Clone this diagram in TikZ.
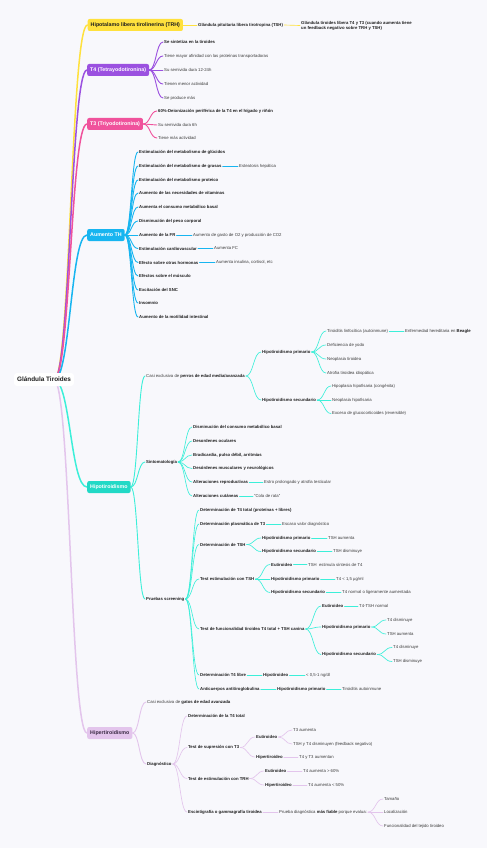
\documentclass[tikz,border=0pt]{standalone}
\usepackage{fontspec}
\setmainfont{Liberation Sans}
\usetikzlibrary{calc}
\definecolor{bgc}{HTML}{F8F8FC}
\definecolor{cY}{HTML}{FFE13D}
\definecolor{cP}{HTML}{9B51E0}
\definecolor{cK}{HTML}{F0529C}
\definecolor{cB}{HTML}{17B5F0}
\definecolor{cC}{HTML}{3CEFD9}
\definecolor{cCbox}{HTML}{22D9C6}
\definecolor{cL}{HTML}{E3C5EC}
\definecolor{cLtxt}{HTML}{3B2B45}
\definecolor{txt}{HTML}{1E1E1E}
\definecolor{txtl}{HTML}{3A3A3A}
\pgfdeclarelayer{back}
\pgfdeclarelayer{edges}
\pgfsetlayers{back,edges,main}
\newcommand\cn[3]{\edef\cnA{#2}\edef\cnB{#3}\draw[#1] let \p1=(\cnA), \p2=(\cnB) in (\p1) .. controls ({0.5*\x1+0.5*\x2},\y1) and ({0.5*\x1+0.5*\x2},\y2) .. (\p2);}
\begin{document}
\begin{tikzpicture}[x=1pt,y=-1pt,
  lf/.style={anchor=west,inner xsep=1pt,inner ysep=0.5pt,font=\fontsize{4.25}{5}\selectfont,text=txtl},
  bl/.style={anchor=west,inner xsep=1pt,inner ysep=0.5pt,font=\fontsize{4.25}{5}\selectfont\bfseries,text=txt},
  bx/.style={anchor=west,rounded corners=2pt,inner xsep=3pt,inner ysep=1pt,minimum height=12pt,font=\fontsize{5.3}{6}\selectfont\bfseries,text=white},
  rootbox/.style={fill=white,rounded corners=3pt,inner xsep=3pt,minimum height=13pt,font=\fontsize{6.4}{7}\selectfont\bfseries,text=txt},
  e1/.style={line width=1.5pt,line cap=round},
  e2/.style={line width=0.9pt,line cap=round},
  e3/.style={line width=0.65pt,line cap=round}]
\begin{pgfonlayer}{back}
\fill[bgc] (0,0) rectangle (487,848);
\end{pgfonlayer}
\useasboundingbox (0,0) rectangle (487,848);
\coordinate (r0) at (54,380);
\node[rootbox] (root) at (44,379.5) {Glándula Tiroides};
% ---------- boxes
\node[bx,fill=cY,text=txt] (trh) at (87.5,25) {Hipotalamo libera tirolinerina (TRH)};
\node[bx,fill=cP] (t4) at (87,70) {T4 (Tetrayodotironina)};
\node[bx,fill=cK] (t3) at (87,124) {T3 (Triyodotironina)};
\node[bx,fill=cB] (ath) at (87,235) {Aumento TH};
\node[bx,fill=cCbox] (hipo) at (87,487) {Hipotiroidismo};
\node[bx,fill=cL,text=cLtxt] (hiper) at (87,733) {Hipertiroidismo};
% ---------- TRH
\node[bl] (tsh) at (197,25) {Glándula pituitaria libera tirotropina (TSH)};
\node[bl,align=left] (tir) at (300,25.5) {Glándula tiroides libera T4 y T3 (cuando aumenta tiene\\un feedback negativo sobre TRH y TSH)};
% ---------- T4
\node[bl] (t4a) at (163,42) {Se sintetiza en la tiroides};
\node[lf] (t4b) at (163,56) {Tiene mayor afinidad con las proteínas transportadoras};
\node[lf] (t4c) at (163,70) {Su semivida dura 12-24h};
\node[lf] (t4d) at (163,84) {Tienen menor actividad};
\node[lf] (t4e) at (163,98) {Se produce más};
% ---------- T3
\node[bl] (t3a) at (157,111) {60\%-Deionización periférica de la T4 en el hígado y riñón};
\node[lf] (t3b) at (157,125) {Su semivida dura 6h};
\node[lf] (t3c) at (157,138) {Tiene más actividad};
% ---------- Aumento TH
\node[bl] (a1) at (138,152) {Estimulación del metabolismo de glúcidos};
\node[bl] (a2) at (138,166) {Estimulación del metabolismo de grasas};
\node[bl] (a3) at (138,180) {Estimulación del metabolismo proteico};
\node[bl] (a4) at (138,193) {Aumento de las necesidades de vitaminas};
\node[bl] (a5) at (138,207) {Aumenta el consumo metabólico basal};
\node[bl] (a6) at (138,221) {Disminución del peso corporal};
\node[bl] (a7) at (138,235) {Aumento de la FR};
\node[bl] (a8) at (138,248.5) {Estimulación cardiovascular};
\node[bl] (a9) at (138,262.5) {Efecto sobre otras hormonas};
\node[bl] (a10) at (138,276) {Efectos sobre el músculo};
\node[bl] (a11) at (138,290) {Excitación del SNC};
\node[bl] (a12) at (138,303) {Insomnio};
\node[bl] (a13) at (138,317) {Aumento de la motilidad intestinal};
\node[lf] (a2a) at (238,166) {Esteatosis hepática};
\node[lf] (a7a) at (192,235) {Aumento de gasto de O2 y producción de CO2};
\node[lf] (a8a) at (213,248.5) {Aumenta FC};
\node[lf] (a9a) at (215,262.5) {Aumenta insulina, cortisol, etc};
% ---------- Hipotiroidismo
\node[lf] (hA) at (145,376) {Casi exclusiva de \textbf{\color{txt}perros de edad media/avanzada}};
\node[bl] (hA1) at (261,352) {Hipotiroidismo primario};
\node[lf] (hA1a) at (326,331) {Tiroiditis linfocítica (autoinmune)};
\node[lf] (hA1b) at (326,345) {Deficiencia de yodo};
\node[lf] (hA1c) at (326,359) {Neoplasia tiroidea};
\node[lf] (hA1d) at (326,373) {Atrofia tiroidea idiopática};
\node[lf] (beag) at (404,331) {Enfermedad hereditaria en \textbf{\color{txt}Beagle}};
\node[bl] (hA2) at (261,400) {Hipotiroidismo secundario};
\node[lf] (hA2a) at (331,386) {Hipoplasia hipofisaria (congénita)};
\node[lf] (hA2b) at (331,400) {Neoplasia hipofisaria};
\node[lf] (hA2c) at (331,413.5) {Exceso de glucocorticoides (reversible)};
\node[bl] (hS) at (145,462) {Sintomatología};
\node[bl] (s1) at (192,427) {Disminución del consumo metabólico basal};
\node[bl] (s2) at (192,441) {Desordenes oculares};
\node[bl] (s3) at (192,455) {Bradicardia, pulso débil, arritmias};
\node[bl] (s4) at (192,468.5) {Desórdenes musculares y neurológicos};
\node[bl] (s5) at (192,482) {Alteraciones reproductivas};
\node[bl] (s6) at (192,496) {Alteraciones cutáneas};
\node[lf] (s5a) at (263,482) {Estro prolongado y atrofia testicular};
\node[lf] (s6a) at (253,496) {“Cola de rata”};
\node[bl] (hP) at (145,599) {Pruebas screening};
\node[bl] (p1) at (199,510) {Determinación de T4 total (proteínas + libres)};
\node[bl] (p2) at (199,524) {Determinación plasmática de T3};
\node[lf] (p2a) at (281,524) {Escaso valor diagnóstico};
\node[bl] (p3) at (199,544.5) {Determinación de TSH};
\node[bl] (p3a) at (261,538) {Hipotiroidismo primario};
\node[lf] (p3aa) at (327,538) {TSH aumenta};
\node[bl] (p3b) at (261,551.5) {Hipotiroidismo secundario};
\node[lf] (p3ba) at (332,551.5) {TSH disminuye};
\node[bl] (p4) at (199,579) {Test estimulación con TSH};
\node[bl] (p4a) at (270,564.5) {Eutiroideo};
\node[lf] (p4aa) at (307,564.5) {TSH\ \ estimula síntesis de T4};
\node[bl] (p4b) at (270,579) {Hipotiroidismo primario};
\node[lf] (p4ba) at (335,579) {T4 < 1,5 µg/ml};
\node[bl] (p4c) at (270,592.5) {Hipotiroidismo secundario};
\node[lf] (p4ca) at (341,592.5) {T4 normal o ligeramente aumentada};
\node[bl] (p5) at (199,629) {Test de funcionalidad tiroidea T4 total + TSH canina};
\node[bl] (p5a) at (321,606) {Eutiroideo};
\node[lf] (p5aa) at (358,606) {T4-TSH normal};
\node[bl] (p5b) at (321,627) {Hipotiroidismo primario};
\node[lf] (p5ba) at (386,620) {T4 disminuye};
\node[lf] (p5bb) at (386,634) {TSH aumenta};
\node[bl] (p5c) at (321,654.5) {Hipotiroidismo secundario};
\node[lf] (p5ca) at (392,647.5) {T4 disminuye};
\node[lf] (p5cb) at (392,661.5) {TSH disminuye};
\node[bl] (p6) at (199,675) {Determinación T4 libre};
\node[bl] (p6a) at (262,675) {Hipotiroideo};
\node[lf] (p6aa) at (305,675) {< 0,5-1 ng/dl};
\node[bl] (p7) at (199,689) {Anticuerpos antitiroglobulina};
\node[bl] (p7a) at (276,689) {Hipotiroidismo primario};
\node[lf] (p7aa) at (341,689) {Tiroiditis autoinmune};
% ---------- Hipertiroidismo
\node[lf] (rA) at (146,702) {Casi exclusiva de \textbf{\color{txt}gatos de edad avanzada}};
\node[bl] (rD) at (146,764) {Diagnóstico};
\node[bl] (d1) at (187,716) {Determinación de la T4 total};
\node[bl] (d2) at (187,747.5) {Test de supresión con T3};
\node[bl] (d2a) at (255,737) {Eutiroideo};
\node[lf] (d2aa) at (292,730) {T3 aumenta};
\node[lf] (d2ab) at (292,744) {TSH y T4 disminuyen (feedback negativo)};
\node[bl] (d2b) at (255,757) {Hipertiroideo};
\node[lf] (d2ba) at (298,757) {T4 y T3 aumentan};
\node[bl] (d3) at (187,778.5) {Test de estimulación con TRH};
\node[bl] (d3a) at (264,771) {Eutiroideo};
\node[lf] (d3aa) at (302,771) {T4 aumenta > 60\%};
\node[bl] (d3b) at (264,785) {Hipertiroideo};
\node[lf] (d3ba) at (307,785) {T4 aumenta < 50\%};
\node[bl] (d4) at (187,812) {Escintigrafía o gammagrafía tiroidea};
\node[lf] (d4a) at (278,812) {Prueba diagnóstica \textbf{\color{txt}más fiable} porque evalua:};
\node[lf] (d4a1) at (383,799) {Tamaño};
\node[lf] (d4a2) at (383,812) {Localización};
\node[lf] (d4a3) at (383,826) {Funcionalidad del tejido tiroideo};
% ---------- connectors
\begin{pgfonlayer}{edges}
\cn{e1,cL}{r0}{hiper.west}
\cn{e1,cC}{r0}{hipo.west}
\cn{e1,cY}{r0}{trh.west}
\cn{e1,cP}{r0}{t4.west}
\cn{e1,cK}{r0}{t3.west}
\cn{e1,cB}{r0}{ath.west}
\cn{e2,cY}{trh.east}{tsh.west}
\cn{e3,cY}{tsh.east}{tir.west}
\foreach \k in {t4a,t4b,t4c,t4d,t4e}{\cn{e2,cP}{t4.east}{\k.west}}
\foreach \k in {t3a,t3b,t3c}{\cn{e2,cK}{t3.east}{\k.west}}
\foreach \k in {a1,a2,a3,a4,a5,a6,a7,a8,a9,a10,a11,a12,a13}{\cn{e2,cB}{ath.east}{\k.west}}
\cn{e3,cB}{a2.east}{a2a.west}
\cn{e3,cB}{a7.east}{a7a.west}
\cn{e3,cB}{a8.east}{a8a.west}
\cn{e3,cB}{a9.east}{a9a.west}
\foreach \k in {hA,hS,hP}{\cn{e2,cC}{hipo.east}{\k.west}}
\foreach \k in {hA1,hA2}{\cn{e3,cC}{hA.east}{\k.west}}
\foreach \k in {hA1a,hA1b,hA1c,hA1d}{\cn{e3,cC}{hA1.east}{\k.west}}
\cn{e3,cC}{hA1a.east}{beag.west}
\foreach \k in {hA2a,hA2b,hA2c}{\cn{e3,cC}{hA2.east}{\k.west}}
\foreach \k in {s1,s2,s3,s4,s5,s6}{\cn{e3,cC}{hS.east}{\k.west}}
\cn{e3,cC}{s5.east}{s5a.west}
\cn{e3,cC}{s6.east}{s6a.west}
\foreach \k in {p1,p2,p3,p4,p5,p6,p7}{\cn{e3,cC}{hP.east}{\k.west}}
\cn{e3,cC}{p2.east}{p2a.west}
\foreach \k in {p3a,p3b}{\cn{e3,cC}{p3.east}{\k.west}}
\cn{e3,cC}{p3a.east}{p3aa.west}
\cn{e3,cC}{p3b.east}{p3ba.west}
\foreach \k in {p4a,p4b,p4c}{\cn{e3,cC}{p4.east}{\k.west}}
\cn{e3,cC}{p4a.east}{p4aa.west}
\cn{e3,cC}{p4b.east}{p4ba.west}
\cn{e3,cC}{p4c.east}{p4ca.west}
\foreach \k in {p5a,p5b,p5c}{\cn{e3,cC}{p5.east}{\k.west}}
\cn{e3,cC}{p5a.east}{p5aa.west}
\foreach \k in {p5ba,p5bb}{\cn{e3,cC}{p5b.east}{\k.west}}
\foreach \k in {p5ca,p5cb}{\cn{e3,cC}{p5c.east}{\k.west}}
\cn{e3,cC}{p6.east}{p6a.west}
\cn{e3,cC}{p6a.east}{p6aa.west}
\cn{e3,cC}{p7.east}{p7a.west}
\cn{e3,cC}{p7a.east}{p7aa.west}
\foreach \k in {rA,rD}{\cn{e2,cL}{hiper.east}{\k.west}}
\foreach \k in {d1,d2,d3,d4}{\cn{e3,cL}{rD.east}{\k.west}}
\foreach \k in {d2a,d2b}{\cn{e3,cL}{d2.east}{\k.west}}
\foreach \k in {d2aa,d2ab}{\cn{e3,cL}{d2a.east}{\k.west}}
\cn{e3,cL}{d2b.east}{d2ba.west}
\foreach \k in {d3a,d3b}{\cn{e3,cL}{d3.east}{\k.west}}
\cn{e3,cL}{d3a.east}{d3aa.west}
\cn{e3,cL}{d3b.east}{d3ba.west}
\cn{e3,cL}{d4.east}{d4a.west}
\foreach \k in {d4a1,d4a2,d4a3}{\cn{e3,cL}{d4a.east}{\k.west}}
\end{pgfonlayer}
\end{tikzpicture}
\end{document}
